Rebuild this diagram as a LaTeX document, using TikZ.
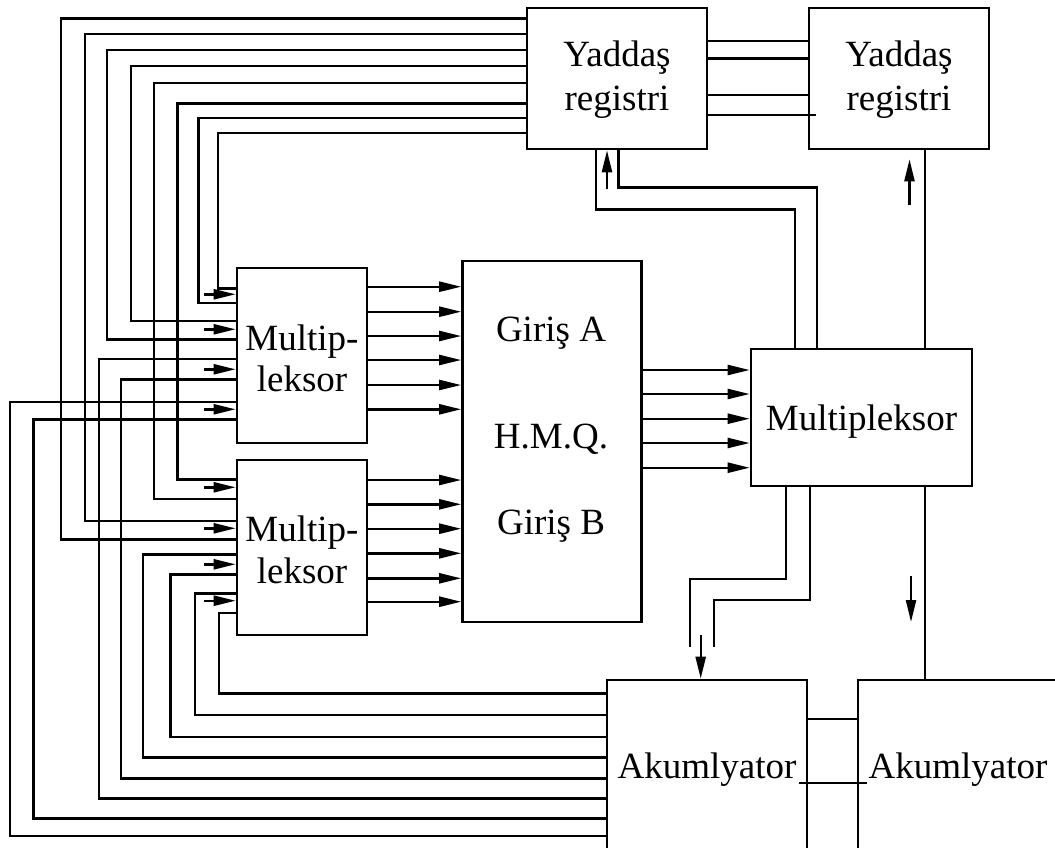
\documentclass[tikz,border=0pt]{standalone}
\usepackage{fontspec}
\setmainfont{Liberation Serif}
\usetikzlibrary{arrows.meta,calc}
\begin{document}
\begin{tikzpicture}[x=1pt,y=-1pt,
  box/.style={draw,line width=2.6pt,rectangle,inner sep=0pt},
  wire/.style={line width=2.4pt},
  arr/.style={wire,-{Triangle[length=22pt,width=10pt]}},
  lbl/.style={anchor=base,inner sep=0pt,font=\fontsize{37}{43}\selectfont}]
\useasboundingbox (0,0) rectangle (1055,847);
\clip (0,0) rectangle (1055,847);
\fill[white] (0,0) rectangle (1055,847);

% boxes
\node[box,minimum width=180pt,minimum height=141pt] (reg1) at (617,78.5) {};
\node[box,minimum width=180pt,minimum height=141pt] (reg2) at (899,78.5) {};
\node[box,minimum width=130pt,minimum height=175pt] (mux1) at (302,355.5) {};
\node[box,minimum width=130pt,minimum height=175pt] (mux2) at (302,547.5) {};
\node[box,minimum width=179pt,minimum height=361pt] (alu) at (552,441.5) {};
\node[box,minimum width=221pt,minimum height=137pt] (mux3) at (861.5,417.5) {};
\node[box,minimum width=200pt,minimum height=200pt] (acc1) at (707,780) {};
\node[box,minimum width=200pt,minimum height=200pt] (acc2) at (958,780) {};

% labels
\node[lbl] (t1) at (617,66.7) {Yaddaş};
\node[lbl] (t2) at (617,110) {registri};
\node[lbl] (t3) at (899,66.7) {Yaddaş};
\node[lbl] (t4) at (899,110) {registri};
\node[lbl] (t5) at (302,350) {Multip-};
\node[lbl] (t6) at (302,391.7) {leksor};
\node[lbl] (t7) at (302,541.7) {Multip-};
\node[lbl] (t8) at (302,583.3) {leksor};
\node[lbl] (t9) at (551,341.7) {Giriş A};
\node[lbl] (t10) at (551,448) {H.M.Q.};
\node[lbl] (t11) at (551,534) {Giriş B};
\node[lbl] (t12) at (861.5,430) {Multipleksor};
\node[lbl] (t13) at (707,778) {Akumlyator};
\node[lbl] (t14) at (958,778) {Akumlyator};

% wires from memory register to multiplexers
\foreach \yt/\xv/\yb/\m in {18.3/60.7/539.3/mux2, 34/85/520.7/mux2, 50/106.7/339.3/mux1, 65.7/130.7/320.7/mux1, 82.7/154/499/mux2, 103.3/177.3/479.3/mux2, 117.7/198.3/302.7/mux1, 132.7/217.7/288.3/mux1}
  \draw[wire] (reg1.west |- 0,\yt) -| (\xv,\yb) -- (\m.west |- 0,\yb);

% wires from accumulator to multiplexers
\foreach \yt/\xv/\yb/\m in {693.3/218.8/612.7/mux2, 715/195/593.3/mux2, 736.7/170.6/574.3/mux2, 757.3/142.9/554.3/mux2, 778.3/121/379.3/mux1, 798.3/98.8/358.7/mux1, 818.3/33.5/419.3/mux1, 836/10.2/401.7/mux1}
  \draw[wire] (acc1.west |- 0,\yt) -| (\xv,\yb) -- (\m.west |- 0,\yb);

% small input arrows
\foreach \y in {294.3,329.3,369.3,409.3}
  \draw[arr] (204,\y) -- (mux1.west |- 0,\y);
\foreach \y in {487.3,528.3,564.3,600.7}
  \draw[arr] (204,\y) -- (mux2.west |- 0,\y);

% mux -> alu
\foreach \y in {286.7,311.7,336,360,385,409.3}
  \draw[arr] (mux1.east |- 0,\y) -- (alu.west |- 0,\y);
\foreach \y in {480,504.3,528.7,553.3,578.3,601.7}
  \draw[arr] (mux2.east |- 0,\y) -- (alu.west |- 0,\y);

% alu -> mux3
\foreach \y in {370,394,418.7,443,467.7}
  \draw[arr] (alu.east |- 0,\y) -- (mux3.west |- 0,\y);

% reg1 -> reg2
\foreach \y in {40.7,58.3,95}
  \draw[wire] (reg1.east |- 0,\y) -- (reg2.west |- 0,\y);
\draw[wire] (reg1.east |- 0,115) -- ($(reg2.west |- 0,115)+(8,0)$);

% reg1 <-> mux3
\draw[wire] (reg1.south -| 596,0) |- (794.7,209.3) -- (mux3.north -| 794.7,0);
\draw[wire] (reg1.south -| 618.5,0) |- (816.7,187.3) -- (mux3.north -| 816.7,0);
\draw[arr] (607,189) -- (reg1.south -| 607,0);

% reg2 <-> mux3
\draw[wire] (reg2.south -| 925,0) -- (mux3.north -| 925,0);
\draw[arr] (909.5,205) -- (909.5,159.3);

% mux3 -> accumulators
\draw[wire] (mux3.south -| 786,0) |- (690,579) -- (690,646.7);
\draw[wire] (mux3.south -| 810,0) |- (714,600) -- (714,646.7);
\draw[arr] (700.7,635) -- (acc1.north -| 700.7,0);
\draw[wire] (mux3.south -| 925,0) -- (acc2.north -| 925,0);
\draw[arr] (911,576) -- (911,622);

% acc1 <-> acc2
\draw[wire] (acc1.east |- 0,719) -- (acc2.west |- 0,719);
\draw[wire] ($(acc1.east |- 0,782.7)+(-9,0)$) -- ($(acc2.west |- 0,782.7)+(10,0)$);
\end{tikzpicture}
\end{document}
